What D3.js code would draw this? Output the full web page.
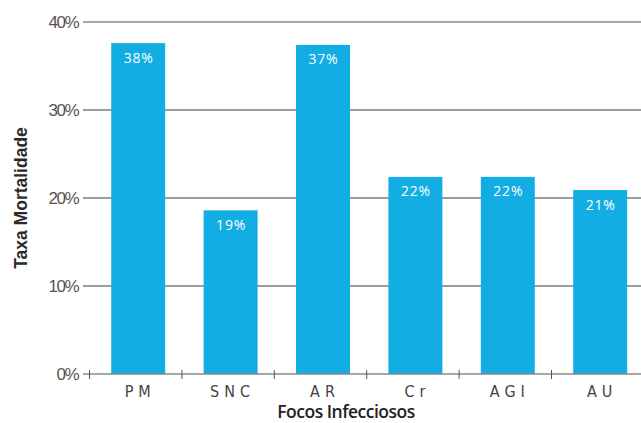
<!DOCTYPE html>
<html>
<head>
<meta charset="utf-8">
<script src="https://cdn.jsdelivr.net/npm/d3@7"></script>
<style>
  html, body { margin: 0; padding: 0; background: #fff; }
  svg { display: block; }
</style>
</head>
<body>
<svg id="chart" width="641" height="423"></svg>
<script>
// Mortality rate by source of infection
const categories = ["PM", "SNC", "AR", "Cr", "AGI", "AU"];
const mortality = [0.376, 0.186, 0.374, 0.224, 0.224, 0.209];
const yTicks = [0, 0.1, 0.2, 0.3, 0.4];

const svg = d3.select("#chart");
const barColor = "#12aee3";
const narrow = "'Liberation Sans Narrow', 'DejaVu Sans Condensed', Roboto, sans-serif";

const x = d3.scaleBand()
  .domain(categories)
  .range([92, 646.4])
  .paddingInner(0.416)
  .paddingOuter(0.208);

const y = d3.scaleLinear().domain([0, 0.4]).range([374, 22]);

const pct = d3.format(".0%");

// gridlines
svg.append("g")
  .selectAll("line")
  .data(yTicks.filter(t => t > 0))
  .join("line")
  .attr("x1", 83).attr("x2", 641)
  .attr("y1", d => y(d)).attr("y2", d => y(d))
  .attr("stroke", d => d === 0.4 ? "#888" : "#3a3a3a")
  .attr("stroke-width", d => d === 0.4 ? 1.6 : 1);

// y tick labels
svg.append("g")
  .selectAll("text")
  .data(yTicks)
  .join("text")
  .attr("x", 78)
  .attr("y", d => y(d))
  .attr("dy", "0.36em")
  .attr("text-anchor", "end")
  .attr("font-family", "Liberation Sans, Arial, sans-serif")
  .attr("font-size", 17)
  .attr("letter-spacing", "-1.5px")
  .attr("fill", "#555")
  .text(d => pct(d));

// bars
svg.append("g")
  .selectAll("rect")
  .data(categories.map((c, i) => ({ c, v: mortality[i] })))
  .join("rect")
  .attr("x", d => x(d.c))
  .attr("width", x.bandwidth())
  .attr("y", d => y(d.v))
  .attr("height", d => y(0) - y(d.v))
  .attr("fill", barColor);

// value labels
svg.append("g")
  .selectAll("text")
  .data(categories.map((c, i) => ({ c, v: mortality[i] })))
  .join("text")
  .attr("x", d => x(d.c) + x.bandwidth() / 2 + 0.5)
  .attr("y", d => y(d.v) + 19.5)
  .attr("text-anchor", "middle")
  .attr("font-family", "Open Sans, sans-serif")
  .attr("font-size", 14)
  .attr("letter-spacing", "0.8px")
  .attr("fill", "#fff")
  .text(d => pct(d.v));

// x axis baseline and ticks
const axis = svg.append("g");
axis.append("line")
  .attr("x1", 83).attr("x2", 641)
  .attr("y1", y(0)).attr("y2", y(0))
  .attr("stroke", "#888").attr("stroke-width", 1.6);
const tickXs = categories.map(c => x(c) - x.step() * x.paddingInner() / 2 - 2.5);
axis.selectAll("line.tick")
  .data(tickXs)
  .join("line")
  .attr("class", "tick")
  .attr("x1", d => d).attr("x2", d => d)
  .attr("y1", y(0) - 4).attr("y2", y(0) + 5)
  .attr("stroke", "#555").attr("stroke-width", 1);

// category labels
axis.selectAll("text")
  .data(categories)
  .join("text")
  .attr("x", d => x(d) + x.bandwidth() / 2 + 2)
  .attr("y", 396.5)
  .attr("text-anchor", "middle")
  .attr("font-family", narrow)
  .attr("font-size", 16)
  .attr("letter-spacing", "5px")
  .attr("fill", "#444")
  .text(d => d);

// axis titles
svg.append("text")
  .attr("x", 346).attr("y", 418)
  .attr("text-anchor", "middle")
  .attr("font-family", "Open Sans, sans-serif")
  .attr("font-size", 17.5)
  .attr("font-weight", 600)
  .attr("letter-spacing", "-0.5px")
  .attr("fill", "#222")
  .text("Focos Infecciosos");

svg.append("text")
  .attr("transform", "translate(27,198) rotate(-90)")
  .attr("text-anchor", "middle")
  .attr("font-family", "Liberation Sans, Arial, sans-serif")
  .attr("font-size", 17.5)
  .attr("font-weight", "bold")
  .attr("fill", "#2a2a2a")
  .text("Taxa Mortalidade");
</script>
</body>
</html>
